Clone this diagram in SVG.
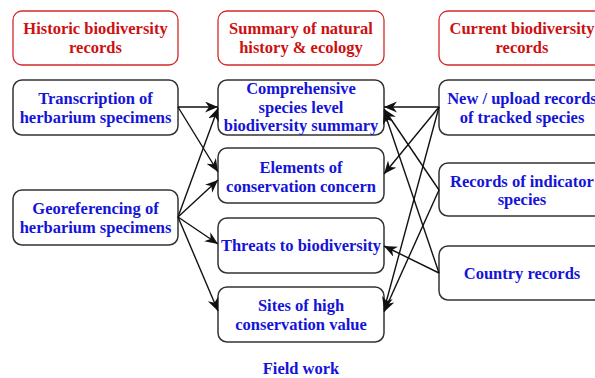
<svg xmlns="http://www.w3.org/2000/svg" width="595" height="378" viewBox="0 0 595 378">
<defs>
<style>
.hdr rect{fill:#fff;stroke:#d42a2a;stroke-width:1.3}
.hdr text{fill:#cc1111}
.node rect{fill:#fff;stroke:#333;stroke-width:1.5}
.node text{fill:#1414d8}
text{font-family:"Liberation Serif","Times New Roman",serif;font-weight:bold;font-size:16.5px;text-anchor:middle}
.conn line{stroke:#111;stroke-width:1.4;fill:none;marker-end:url(#ah)}
</style>
<marker id="ah" markerUnits="userSpaceOnUse" markerWidth="14" markerHeight="12" refX="13" refY="5.5" orient="auto">
<path d="M0,0 L13,5.5 L0,11 L4,5.5 z" fill="#111"/>
</marker>
</defs>
<rect width="595" height="378" fill="#fff"/>
<g id="hdr-historic" class="hdr"><rect x="13" y="11" width="165" height="54" rx="9"/><text x="95.5" y="34">Historic biodiversity</text><text x="95.5" y="53">records</text></g>
<g id="hdr-summary" class="hdr"><rect x="218" y="11" width="166" height="54" rx="9"/><text x="301" y="34">Summary of natural</text><text x="301" y="53">history &amp; ecology</text></g>
<g id="hdr-current" class="hdr"><rect x="439" y="11" width="166" height="54" rx="9"/><text x="522" y="34">Current biodiversity</text><text x="522" y="53">records</text></g>

<g id="n-transcription" class="node"><rect x="13" y="80" width="165" height="55" rx="9"/><text x="95.5" y="104">Transcription of</text><text x="95.5" y="123">herbarium specimens</text></g>
<g id="n-georef" class="node"><rect x="13" y="190" width="165" height="55" rx="9"/><text x="95.5" y="214">Georeferencing of</text><text x="95.5" y="233">herbarium specimens</text></g>

<g id="n-comprehensive" class="node"><rect x="218" y="80" width="166" height="55" rx="9"/><text x="301" y="94">Comprehensive</text><text x="301" y="113">species level</text><text x="301" y="131">biodiversity summary</text></g>
<g id="n-elements" class="node"><rect x="218" y="148" width="166" height="55" rx="9"/><text x="301" y="173">Elements of</text><text x="301" y="192">conservation concern</text></g>
<g id="n-threats" class="node"><rect x="218" y="218" width="166" height="55" rx="9"/><text x="301" y="251">Threats to biodiversity</text></g>
<g id="n-sites" class="node"><rect x="218" y="287" width="166" height="55" rx="9"/><text x="301" y="311">Sites of high</text><text x="301" y="330">conservation value</text></g>

<g id="n-new" class="node"><rect x="439" y="80" width="166" height="55" rx="9"/><text x="522" y="104">New / upload records</text><text x="522" y="123">of tracked species</text></g>
<g id="n-indicator" class="node"><rect x="439" y="163" width="166" height="53" rx="9"/><text x="522" y="187">Records of indicator</text><text x="522" y="205">species</text></g>
<g id="n-country" class="node"><rect x="439" y="246" width="166" height="54" rx="9"/><text x="522" y="279">Country records</text></g>

<g id="lbl-fieldwork"><text x="301" y="374" fill="#1414d8">Field work</text></g>

<g id="connectors" class="conn">
<line x1="178" y1="107" x2="218" y2="107"/>
<line x1="178" y1="107" x2="218" y2="172"/>
<line x1="178" y1="217" x2="218" y2="108"/>
<line x1="178" y1="217" x2="218" y2="180"/>
<line x1="178" y1="217" x2="218" y2="244"/>
<line x1="178" y1="217" x2="218" y2="311"/>
<line x1="439" y1="107" x2="384" y2="107"/>
<line x1="439" y1="107" x2="384" y2="174"/>
<line x1="439" y1="107" x2="384" y2="310"/>
<line x1="439" y1="190" x2="384" y2="109"/>
<line x1="439" y1="190" x2="384" y2="312"/>
<line x1="439" y1="273" x2="384" y2="111"/>
<line x1="439" y1="273" x2="384" y2="246"/>
</g>
</svg>
